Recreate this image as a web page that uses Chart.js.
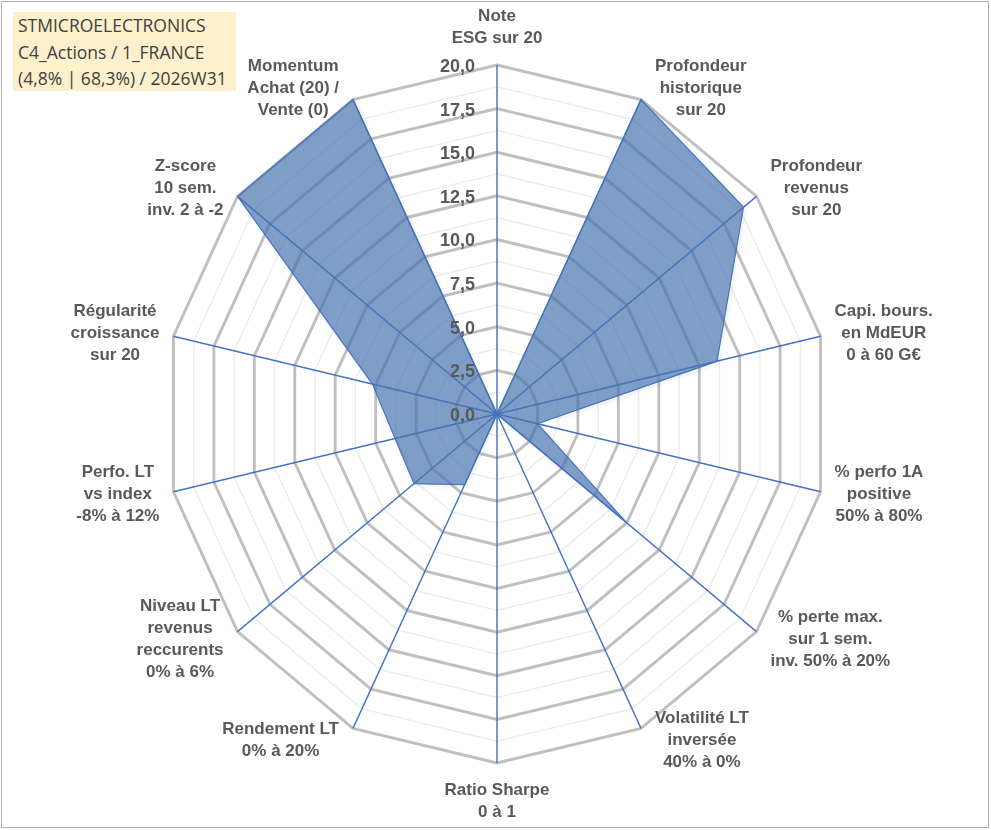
<!DOCTYPE html>
<html>
<head>
<meta charset="utf-8">
<title>STMICROELECTRONICS radar</title>
<script src="https://cdn.jsdelivr.net/npm/chart.js@4.4.1/dist/chart.umd.min.js"></script>
<style>
  body { margin: 0; background: #fff; }
  #wrap { position: relative; width: 991px; height: 830px; overflow: hidden; }
  #chart { position: absolute; left: 0; top: 0; }
  #frame { position: absolute; left: 1px; top: 1px; width: 986px; height: 825px; border: 1px solid #b0b0b0; pointer-events: none; }
  #title { position: absolute; left: 13px; top: 12px; width: 223px; height: 79px; box-sizing: border-box;
           padding-left: 5px; background: #fdf0cc; color: #404040;
           font-family: "Open Sans", sans-serif; font-size: 17.5px; line-height: 26.5px; white-space: nowrap; }
</style>
</head>
<body>
<div id="wrap">
  <canvas id="chart" width="991" height="830"></canvas>
  <div id="title"></div>
  <div id="frame"></div>
</div>
<script>
// axis names (one array of lines per spoke, clockwise from the top)
var axisLabels = [
  ['Note', 'ESG sur 20'],
  ['Profondeur', 'historique', 'sur 20'],
  ['Profondeur', 'revenus', 'sur 20'],
  ['Capi. bours.', 'en MdEUR', '0 à 60 G€'],
  ['% perfo 1A', 'positive', '50% à 80%'],
  ['% perte max.', 'sur 1 sem.', 'inv. 50% à 20%'],
  ['Volatilité LT', 'inversée', '40% à 0%'],
  ['Ratio Sharpe', '0 à 1'],
  ['Rendement LT', '0% à 20%'],
  ['Niveau LT', 'revenus', 'reccurents', '0% à 6%'],
  ['Perfo. LT', 'vs index', '-8% à 12%'],
  ['Régularité', 'croissance', 'sur 20'],
  ['Z-score', '10 sem.', 'inv. 2 à -2'],
  ['Momentum', 'Achat (20) /', 'Vente (0)']
];

// scores out of 20
var scores = [0, 20, 19, 13.6, 2.5, 10, 0, 0, 4.5, 6.4, 6.3, 7.7, 20, 20];

// labelled rings
var tickValues = [0, 2.5, 5, 7.5, 10, 12.5, 15, 17.5, 20];

var titleLines = ['STMICROELECTRONICS', 'C4_Actions / 1_FRANCE', '(4,8% | 68,3%) / 2026W31'];

document.getElementById('title').innerHTML = titleLines.join('<br>');

var squeeze = 0.951;   // the original plot is a bit narrower than tall
var lineH = 22;

var ellipsePlugin = {
  id: 'ellipse',
  beforeDraw: function (chart) {
    var ctx = chart.ctx, cx = chart.scales.r.xCenter;
    ctx.save();
    ctx.translate(cx, 0);
    ctx.scale(squeeze, 1);
    ctx.translate(-cx, 0);
  },
  beforeDatasetsDraw: function (chart) {
    var ctx = chart.ctx;
    ctx.shadowColor = 'rgba(0,0,0,0.08)';
    ctx.shadowBlur = 4;
    ctx.shadowOffsetX = 2;
    ctx.shadowOffsetY = 2;
  },
  afterDatasetsDraw: function (chart) {
    chart.ctx.restore();
  },
  afterDraw: function (chart) {
    var s = chart.scales.r, ctx = chart.ctx, cx = s.xCenter;
    ctx.save();
    ctx.font = 'bold 17px "Liberation Sans", Arial, sans-serif';
    ctx.fillStyle = '#595959';
    ctx.textBaseline = 'middle';

    // spoke names
    ctx.textAlign = 'center';
    axisLabels.forEach(function (lines, i) {
      var p = s.getPointPosition(i, s.drawingArea);
      var vx = cx + (p.x - cx) * squeeze, vy = p.y;
      var a = s.getIndexAngle(i);
      var dx = Math.sin(a), dy = -Math.cos(a);
      var w = Math.max.apply(null, lines.map(function (t) { return ctx.measureText(t).width; }));
      var h = lines.length * lineH;
      var mx, my;
      if (Math.abs(dx) < 0.05) {
        mx = vx;
        my = vy + dy * (h / 2 + 16);
      } else {
        mx = vx + Math.sign(dx) * (w / 2 + 14);
        my = vy + dy * 13;
      }
      lines.forEach(function (t, k) {
        ctx.fillText(t, mx, my - h / 2 + lineH * (k + 0.5));
      });
    });

    // ring values, left of the top spoke
    ctx.font = 'bold 18px "Liberation Sans", Arial, sans-serif';
    ctx.textAlign = 'right';
    tickValues.forEach(function (v) {
      var y = s.yCenter - s.getDistanceFromCenterForValue(v);
      ctx.fillText(v.toFixed(1).replace('.', ','), cx - 22, y + 2);
    });
    ctx.restore();
  }
};

new Chart(document.getElementById('chart'), {
  type: 'radar',
  data: {
    labels: axisLabels,
    datasets: [{
      data: scores,
      fill: true,
      backgroundColor: 'rgba(72,118,178,0.68)',
      borderColor: '#4472C4',
      borderWidth: 1.2,
      pointRadius: 0,
      pointHoverRadius: 0
    }]
  },
  options: {
    responsive: false,
    animation: false,
    layout: { padding: { top: 65, bottom: 67, left: 4, right: 0 } },
    plugins: {
      legend: { display: false },
      tooltip: { enabled: false }
    },
    scales: {
      r: {
        min: 0,
        max: 20,
        ticks: { display: false, stepSize: 1.25 },
        pointLabels: { display: false },
        grid: {
          color: function (c) { return c.index % 2 === 0 ? '#bfbfbf' : '#ececec'; },
          lineWidth: function (c) { return c.index % 2 === 0 ? 3 : 1.5; }
        },
        angleLines: { color: '#4472C4', lineWidth: 1.5 }
      }
    }
  },
  plugins: [ellipsePlugin]
});
</script>
</body>
</html>
